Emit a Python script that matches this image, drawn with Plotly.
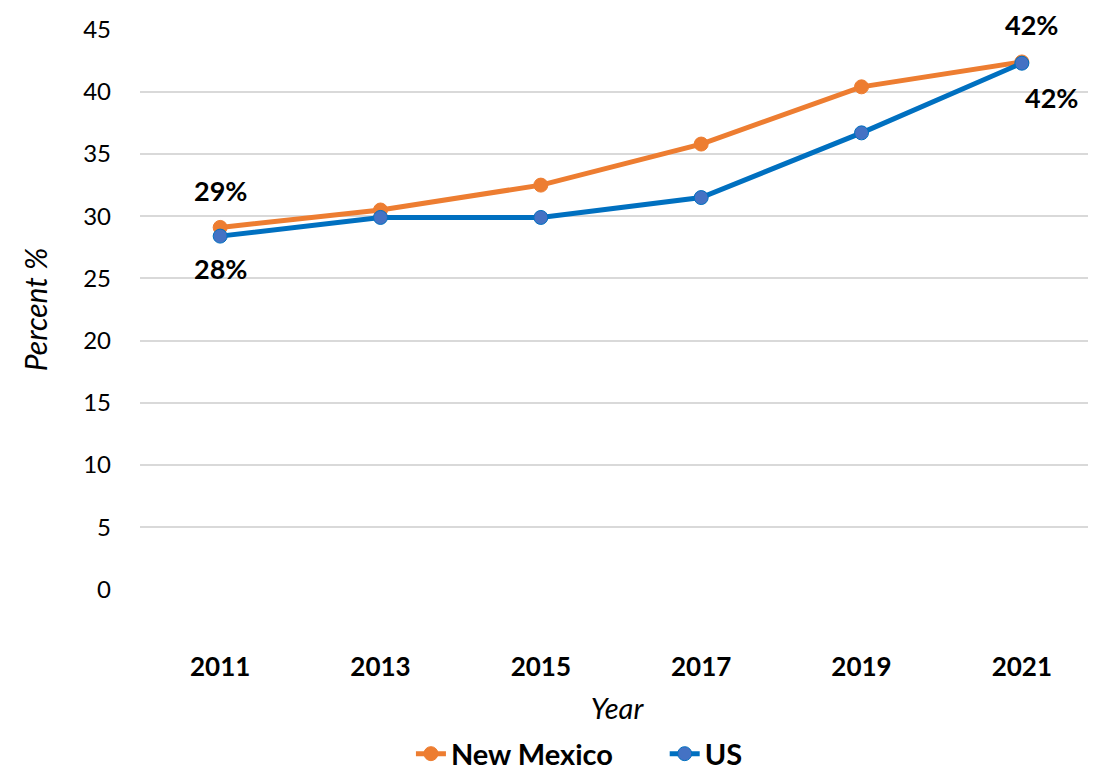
import plotly.graph_objects as go

years = [2011, 2013, 2015, 2017, 2019, 2021]
new_mexico = [29.1, 30.5, 32.5, 35.8, 40.4, 42.4]
us = [28.4, 29.9, 29.9, 31.5, 36.7, 42.3]
y_ticks = [0, 5, 10, 15, 20, 25, 30, 35, 40, 45]

ORANGE = "#ED7D31"
BLUE = "#0070C0"
MARK_BLUE = "#4472C4"
FONT = "Lato"

fig = go.Figure()
fig.add_trace(go.Scatter(
    x=years, y=new_mexico, name="New Mexico", mode="lines+markers",
    line=dict(color=ORANGE, width=5),
    marker=dict(color=ORANGE, size=14, line=dict(color=ORANGE, width=1)),
    cliponaxis=False, legend="legend",
))
fig.add_trace(go.Scatter(
    x=years, y=us, name="US", mode="lines+markers",
    line=dict(color=BLUE, width=5),
    marker=dict(color=MARK_BLUE, size=14, line=dict(color=BLUE, width=1)),
    cliponaxis=False, legend="legend2",
))

lab_font = dict(family=FONT, size=27, color="black", weight="bold")
labels = [
    (years[0], new_mexico[0], 0, 37),
    (years[-1], new_mexico[-1], 10, 37),
    (years[0], us[0], 0, -32),
    (years[-1], us[-1], 30, -34),
]
for x, v, xs, ys in labels:
    fig.add_annotation(x=x, y=v, xref="x", yref="y", text=f"{v:.0f}%",
                       showarrow=False, xshift=xs, yshift=ys, font=lab_font)

leg_common = dict(orientation="h", yanchor="middle", y=-0.292, xanchor="left",
                  font=dict(family=FONT, size=29, weight="bold"),
                  bgcolor="rgba(0,0,0,0)")

fig.update_layout(
    width=1088, height=762,
    margin=dict(l=132, r=2, t=21, b=180, autoexpand=False),
    paper_bgcolor="white", plot_bgcolor="white",
    font=dict(family=FONT, color="black"),
    showlegend=True,
    legend=dict(x=0.284, **leg_common),
    legend2=dict(x=0.550, **leg_common),
    xaxis=dict(
        range=[2010.0, 2021.9], tickvals=years, ticktext=[str(y) for y in years],
        showgrid=False, zeroline=False, showline=False, ticks="", automargin=False,
        tickfont=dict(family=FONT, size=26, weight="bold"),
        ticklabelstandoff=59,
        title=dict(text="<i>Year</i>", font=dict(family=FONT, size=29), standoff=17),
    ),
    yaxis=dict(
        range=[-0.05, 45.05], tickvals=y_ticks, showgrid=True, gridcolor="#D9D9D9", gridwidth=1.5,
        zeroline=False, showline=False, ticks="", automargin=False,
        tickfont=dict(family=FONT, size=24),
        ticklabelstandoff=28,
        title=dict(text="<i>Percent %</i>", font=dict(family=FONT, size=30), standoff=26),
    ),
)

fig.write_html("out.html")
